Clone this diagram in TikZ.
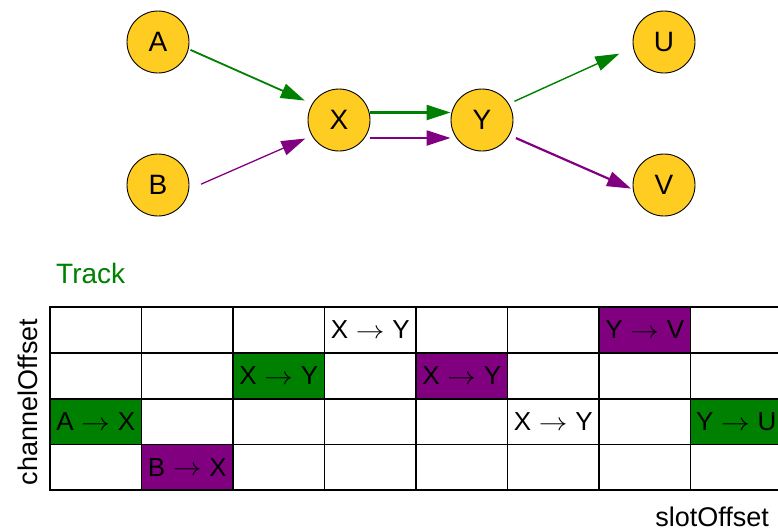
\documentclass[tikz,border=0pt]{standalone}
\usepackage{graphicx}
\usepackage{fontspec}
\setmainfont{Liberation Sans}
\usetikzlibrary{arrows.meta}
\definecolor{nodeyellow}{RGB}{255,204,34}
\definecolor{flowgreen}{RGB}{0,128,0}
\definecolor{flowpurple}{RGB}{128,0,128}
\tikzset{
  mote/.style={circle, draw=black, line width=0.9pt, fill=nodeyellow,
    minimum size=62pt, inner sep=0pt, font=\fontsize{28}{30}\selectfont},
  link/.style={-{Triangle[length=24pt,width=15pt]}},
  celltext/.style={font=\fontsize{26}{28}\selectfont, inner sep=0pt},
  gridline/.style={line width=1.8pt, black},
  axislabel/.style={font=\fontsize{27}{30}\selectfont, inner sep=0pt},
}
% a cell entry: sender, long thin arrow, receiver
\newcommand{\hop}[2]{#1\hspace{0.3em}\raisebox{0.5pt}{\scalebox{1.15}[1]{$\rightarrow$}}\hspace{0.3em}#2}
\begin{document}
\begin{tikzpicture}[x=1pt, y=-1pt]
\useasboundingbox (0,0) rectangle (778,531);

% ---- routing graph ----
\node[mote] (A) at (158,42)  {A};
\node[mote] (B) at (158,185) {B};
\node[mote] (X) at (339,120) {X};
\node[mote] (Y) at (482,120) {Y};
\node[mote] (U) at (664,42)  {U};
\node[mote] (V) at (664,185) {V};

\draw[link, flowgreen, line width=1.8pt, shorten <=2pt, shorten >=8pt] (A.-13) -- (X.149);
\draw[link, flowpurple, line width=1.3pt, shorten <=13pt, shorten >=7pt] (B.-8) -- (X.210);
\draw[link, flowgreen, line width=2.2pt] ([yshift=7.5pt]X.east) -- ([yshift=7.5pt]Y.west);
\draw[link, flowpurple, line width=2.2pt] ([yshift=-18pt]X.east) -- ([yshift=-18pt]Y.west);
\draw[link, flowgreen, line width=1.4pt, shorten <=6pt, shorten >=15pt] (Y.31) -- (U.190);
\draw[link, flowpurple, line width=2.2pt, shorten <=7pt, shorten >=2pt] (Y.-29) -- (V.188);

% ---- schedule table ----
\node[anchor=base west, font=\fontsize{28}{30}\selectfont, text=flowgreen, inner sep=0pt] (track) at (56,283) {Track};

\begin{scope}
\clip (0,0) rectangle (778,531);
% coloured cells
\fill[flowgreen]  (50,398.75)  rectangle (141.5,444.5);
\fill[flowpurple] (141.5,444.5) rectangle (233,490.25);
\fill[flowgreen]  (233,353)    rectangle (324.5,398.75);
\fill[flowpurple] (416,353)    rectangle (507.5,398.75);
\fill[flowpurple] (599,307.25) rectangle (690.5,353);
\fill[flowgreen]  (690.5,398.75) rectangle (782,444.5);
% grid
\foreach \c in {50,141.5,233,324.5,416,507.5,599,690.5,782}
  \draw[gridline] (\c,307.25) -- (\c,490.25);
\foreach \r in {307.25,353,398.75,444.5,490.25}
  \draw[gridline] (49.1,\r) -- (782,\r);
% cell labels
\node[celltext] (c1) at (95.75,422)  {\hop{A}{X}};
\node[celltext] (c2) at (187.25,467.5) {\hop{B}{X}};
\node[celltext] (c3) at (278.75,376)  {\hop{X}{Y}};
\node[celltext] (c4) at (370.25,330)  {\hop{X}{Y}};
\node[celltext] (c5) at (461.75,376)  {\hop{X}{Y}};
\node[celltext] (c6) at (553.25,422)  {\hop{X}{Y}};
\node[celltext] (c7) at (644.75,330)  {\hop{Y}{V}};
\node[celltext] (c8) at (736.25,422)  {\hop{Y}{U}};
\end{scope}

% axis labels
\node[axislabel, rotate=90, anchor=base] (chan) at (37,402) {channelOffset};
\node[axislabel, anchor=base east] (slot) at (769,526) {slotOffset};
\end{tikzpicture}
\end{document}
